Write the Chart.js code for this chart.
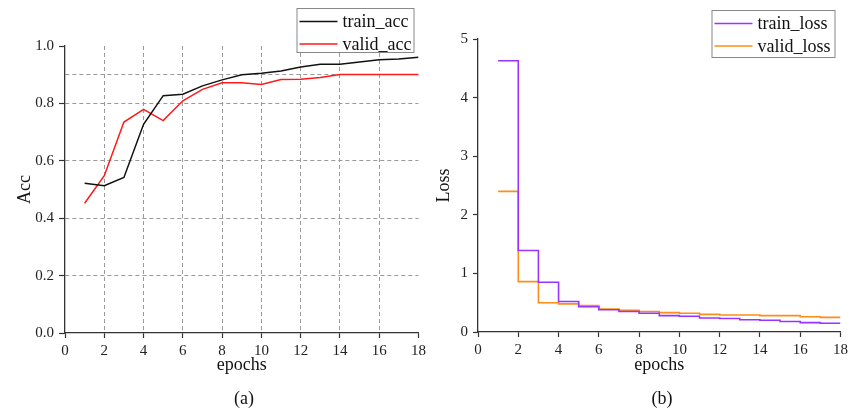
<!DOCTYPE html>
<html>
<head>
<meta charset="utf-8">
<script src="https://cdn.jsdelivr.net/npm/chart.js@4.4.1/dist/chart.umd.min.js"></script>
<style>
  body { margin: 0; background: #fff; }
  #wrap { position: relative; width: 852px; height: 412px; overflow: hidden; }
  canvas { position: absolute; top: 0; }
  .cap { position: absolute; top: 387px; width: 60px; text-align: center;
         font: 18px "Liberation Serif", serif; line-height: 22px; color: #111; }
</style>
</head>
<body>
<div id="wrap">
  <canvas id="accChart" width="430" height="412" style="left:0"></canvas>
  <canvas id="lossChart" width="422" height="412" style="left:430px"></canvas>
  <div class="cap" style="left:214px">(a)</div>
  <div class="cap" style="left:632px">(b)</div>
</div>
<script>
// values
const epochs = [1, 2, 3, 4, 5, 6, 7, 8, 9, 10, 11, 12, 13, 14, 15, 16, 17, 18];
const trainAcc = [0.522, 0.513, 0.542, 0.727, 0.827, 0.832, 0.861, 0.882, 0.900, 0.905, 0.913, 0.927, 0.936, 0.936, 0.944, 0.952, 0.955, 0.961];
const validAcc = [0.452, 0.548, 0.735, 0.779, 0.740, 0.809, 0.849, 0.872, 0.872, 0.866, 0.883, 0.884, 0.890, 0.901, 0.901, 0.901, 0.901, 0.901];
const trainLoss = [4.63, 1.39, 0.85, 0.52, 0.43, 0.38, 0.35, 0.32, 0.28, 0.27, 0.24, 0.23, 0.21, 0.20, 0.18, 0.16, 0.15, 0.15];
const validLoss = [2.40, 0.86, 0.50, 0.48, 0.45, 0.39, 0.37, 0.35, 0.33, 0.32, 0.30, 0.29, 0.29, 0.28, 0.28, 0.26, 0.25, 0.25];
const xTicks = [0, 2, 4, 6, 8, 10, 12, 14, 16, 18];
const accTicks = [0.0, 0.2, 0.4, 0.6, 0.8, 1.0];
const accRef = 0.9;
const lossTicks = [0, 1, 2, 3, 4, 5];

const serif = '"Liberation Serif", "Times New Roman", serif';
const axisColor = '#333';

const pts = (ys) => epochs.map((x, i) => ({ x: x, y: ys[i] }));

// legend with a border, drawn from the datasets
const boxLegend = {
  id: 'boxLegend',
  afterDraw(chart, args, opts) {
    const ctx = chart.ctx;
    const right = chart.chartArea.right - opts.inset;
    const left = right - opts.width;
    const top = opts.top;
    ctx.save();
    ctx.fillStyle = '#fff';
    ctx.fillRect(left, top, opts.width, opts.height);
    ctx.strokeStyle = '#888';
    ctx.lineWidth = 1;
    ctx.strokeRect(left + 0.5, top + 0.5, opts.width, opts.height);
    ctx.font = '18px ' + serif;
    ctx.textBaseline = 'middle';
    chart.data.datasets.forEach((ds, i) => {
      const y = top + 13.5 + i * 22.4;
      ctx.strokeStyle = ds.borderColor;
      ctx.lineWidth = 1.5;
      ctx.beginPath();
      ctx.moveTo(left + 3, y);
      ctx.lineTo(left + 41, y);
      ctx.stroke();
      ctx.fillStyle = '#111';
      ctx.fillText(ds.label, left + 46, y + 1);
    });
    ctx.restore();
  }
};

function xScale() {
  return {
    type: 'linear',
    min: 0,
    max: 18,
    afterBuildTicks: (s) => { s.ticks = xTicks.map(v => ({ value: v })); },
    afterFit: (s) => { s.height = 412 - s.chart.options.bottomEdge; },
    ticks: { font: { family: serif, size: 15 }, color: '#222', padding: 4, maxRotation: 0 },
    border: { color: axisColor, width: 1.3 },
    title: { display: true, text: 'epochs', font: { family: serif, size: 18 }, color: '#111',
             padding: { top: 0, bottom: 36 } }
  };
}

new Chart(document.getElementById('accChart'), {
  type: 'line',
  data: {
    datasets: [
      { label: 'train_acc', data: pts(trainAcc), borderColor: '#111', borderWidth: 1.5, pointRadius: 0, tension: 0 },
      { label: 'valid_acc', data: pts(validAcc), borderColor: '#ff1a1a', borderWidth: 1.5, pointRadius: 0, tension: 0 }
    ]
  },
  plugins: [boxLegend],
  options: {
    responsive: false,
    animation: false,
    devicePixelRatio: 1,
    bottomEdge: 333,
    layout: { padding: { top: 46, right: 9, left: 0, bottom: 0 } },
    plugins: {
      legend: { display: false },
      tooltip: { enabled: false },
      boxLegend: { inset: 5, top: 8, width: 117, height: 44 }
    },
    scales: {
      x: Object.assign(xScale(), {
        grid: {
          color: (c) => (c.tick && (c.tick.value === 0 || c.tick.value === 18)) ? 'rgba(0,0,0,0)' : '#9a9a9a',
          lineWidth: 1, tickLength: 5, tickColor: axisColor, tickWidth: 1.2
        },
        border: { color: axisColor, width: 1.3, dash: [4, 3] }
      }),
      y: {
        type: 'linear',
        min: 0,
        max: 1,
        afterBuildTicks: (s) => {
          s.ticks = accTicks.concat([accRef]).sort((a, b) => a - b).map(v => ({ value: v }));
        },
        afterFit: (s) => { s.width = 65; },
        ticks: {
          font: { family: serif, size: 15 }, color: '#222', padding: 5,
          callback: (v) => accTicks.includes(v) ? v.toFixed(1) : ''
        },
        grid: {
          color: (c) => (c.tick && (c.tick.value === 0 || c.tick.value === 1)) ? 'rgba(0,0,0,0)' : '#9a9a9a',
          lineWidth: 1, tickLength: 6, tickWidth: 1.2,
          tickColor: (c) => (c.tick && c.tick.value === accRef) ? 'rgba(0,0,0,0)' : axisColor
        },
        border: { color: axisColor, width: 1.3, dash: [4, 3] },
        title: { display: true, text: 'Acc', font: { family: serif, size: 18 }, color: '#111',
                 padding: { top: 14, bottom: 0 } }
      }
    }
  }
});

new Chart(document.getElementById('lossChart'), {
  type: 'line',
  data: {
    datasets: [
      { label: 'train_loss', data: pts(trainLoss), borderColor: '#9933ff', borderWidth: 1.6, pointRadius: 0, stepped: true },
      { label: 'valid_loss', data: pts(validLoss), borderColor: '#ff8c1a', borderWidth: 1.6, pointRadius: 0, stepped: true }
    ]
  },
  plugins: [boxLegend],
  options: {
    responsive: false,
    animation: false,
    devicePixelRatio: 1,
    bottomEdge: 332,
    layout: { padding: { top: 39, right: 10, left: 0, bottom: 0 } },
    plugins: {
      legend: { display: false },
      tooltip: { enabled: false },
      boxLegend: { inset: 6, top: 10, width: 123, height: 47 }
    },
    scales: {
      x: Object.assign(xScale(), {
        grid: { drawOnChartArea: false, tickLength: 5, tickColor: axisColor, tickWidth: 1.2 }
      }),
      y: {
        type: 'linear',
        min: 0,
        max: 5,
        afterBuildTicks: (s) => { s.ticks = lossTicks.map(v => ({ value: v })); },
        afterFit: (s) => { s.width = 48; },
        ticks: { font: { family: serif, size: 15 }, color: '#222', padding: 5 },
        grid: { drawOnChartArea: false, tickLength: 5, tickColor: axisColor, tickWidth: 1.2 },
        border: { color: axisColor, width: 1.3 },
        title: { display: true, text: 'Loss', font: { family: serif, size: 18 }, color: '#111',
                 padding: { top: 3, bottom: 0 } }
      }
    }
  }
});
</script>
</body>
</html>
